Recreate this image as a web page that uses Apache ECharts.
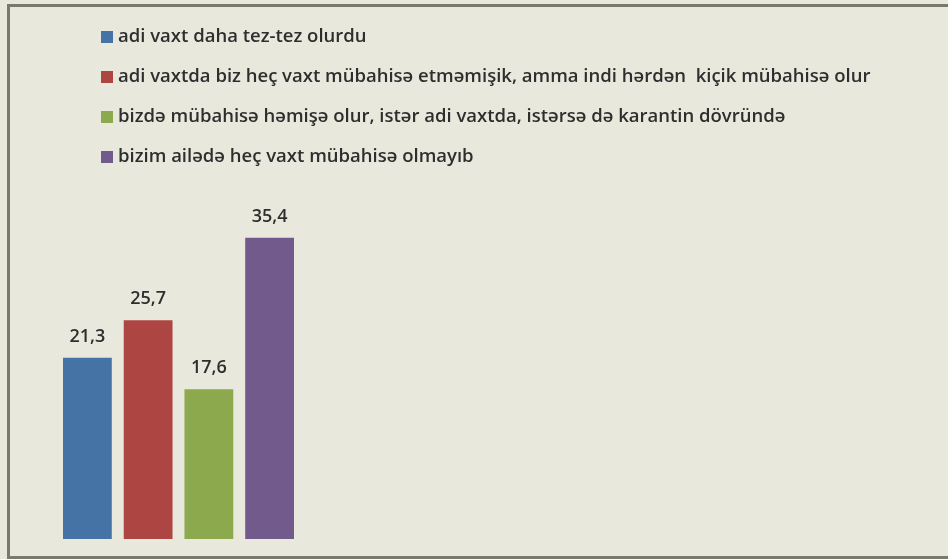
<!DOCTYPE html>
<html>
<head>
<meta charset="utf-8">
<script src="https://cdn.jsdelivr.net/npm/echarts@6/dist/echarts.min.js"></script>
<style>
  html, body { margin: 0; padding: 0; background: #e9e8dc; overflow: hidden; }
  #chart { position: absolute; left: 0; top: 0; width: 948px; height: 559px; }
  #frame {
    position: absolute; left: 7px; top: 4px; width: 960px; height: 549px;
    border: 3px solid #797a6f; pointer-events: none;
  }
</style>
</head>
<body>
<div id="chart"></div>
<div id="frame"></div>
<script>
const seriesNames = [
  "adi vaxt daha tez-tez olurdu",
  "adi vaxtda biz heç vaxt mübahisə etməmişik, amma indi hərdən  kiçik mübahisə olur",
  "bizdə mübahisə həmişə olur, istər adi vaxtda, istərsə də karantin dövründə",
  "bizim ailədə heç vaxt mübahisə olmayıb"
];
const seriesValues = [21.3, 25.7, 17.6, 35.4];
const seriesColors = ["#4673a6", "#ad4643", "#8ca94e", "#735a8c"];

const chart = echarts.init(document.getElementById("chart"));

const option = {
  backgroundColor: "transparent",
  animation: false,
  textStyle: { fontFamily: "Open Sans" },
  legend: {
    orient: "vertical",
    left: 96,
    top: 22,
    itemWidth: 12,
    itemHeight: 12,
    itemGap: 20,
    icon: "rect",
    textStyle: { fontSize: 18.5, fontWeight: 600, color: "#2e2e2e", lineHeight: 20, fontFamily: "Open Sans" },
    data: seriesNames
  },
  grid: { left: 63, right: 654, top: 198.5, bottom: 20 },
  xAxis: {
    type: "category",
    data: [""],
    axisLine: { show: false },
    axisTick: { show: false },
    axisLabel: { show: false }
  },
  yAxis: {
    type: "value",
    min: 0,
    max: 40,
    show: false,
    splitLine: { show: false }
  },
  series: seriesNames.map((name, i) => ({
    name: name,
    type: "bar",
    data: [seriesValues[i]],
    barGap: "24.5%",
    barCategoryGap: "0%",
    itemStyle: { color: seriesColors[i] },
    label: {
      show: true,
      position: "top",
      distance: 12,
      fontSize: 18,
      fontWeight: 600,
      color: "#2e2e2e",
      fontFamily: "Open Sans",
      formatter: (p) => String(p.value).replace(".", ",")
    }
  }))
};

chart.setOption(option);
</script>
</body>
</html>
